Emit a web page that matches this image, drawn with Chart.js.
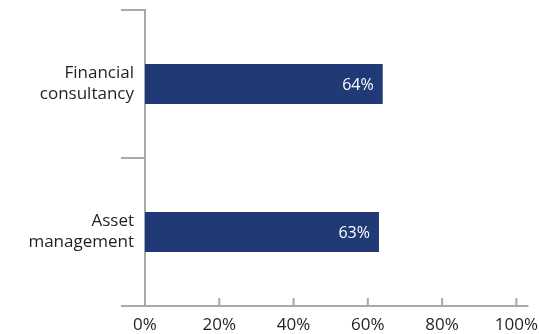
<!DOCTYPE html>
<html>
<head>
<meta charset="utf-8">
<script src="https://cdn.jsdelivr.net/npm/chart.js@4"></script>
<style>
  html, body { margin: 0; padding: 0; background: #fff; }
  #wrap { width: 539px; height: 334px; }
</style>
</head>
<body>
<div id="wrap"><canvas id="chart" width="539" height="334"></canvas></div>
<script>
// data
const categories = [["Financial", "consultancy"], ["Asset", "management"]];
const shares = [64, 63];
const tickValues = [0, 20, 40, 60, 80, 100];

const AXIS = "#a7a9ac";
const BAR = "#1f3a76";
const FONT = "'Open Sans', sans-serif";

// x axis drawn by hand: line runs past 100%, tick marks point up
const xAxisLine = {
    id: "xAxisLine",
    afterDraw(chart) {
        const ctx = chart.ctx;
        const area = chart.chartArea;
        const x = chart.scales.x;
        ctx.save();
        ctx.strokeStyle = AXIS;
        ctx.lineWidth = 2;
        ctx.beginPath();
        ctx.moveTo(area.left, area.bottom);
        ctx.lineTo(area.right + 12, area.bottom);
        tickValues.forEach(v => {
            const px = x.getPixelForValue(v);
            ctx.moveTo(px, area.bottom);
            ctx.lineTo(px, area.bottom - 8);
        });
        ctx.stroke();
        ctx.restore();
    }
};

// value labels inside the bar ends
const barLabels = {
    id: "barLabels",
    afterDatasetsDraw(chart) {
        const ctx = chart.ctx;
        const meta = chart.getDatasetMeta(0);
        ctx.save();
        ctx.fillStyle = "#ffffff";
        ctx.font = "16px " + FONT;
        ctx.textAlign = "right";
        ctx.textBaseline = "middle";
        meta.data.forEach((bar, i) => {
            ctx.fillText(shares[i] + "%", bar.x - 9, bar.y + 1);
        });
        ctx.restore();
    }
};

new Chart(document.getElementById("chart"), {
    type: "bar",
    data: {
        labels: categories,
        datasets: [{
            data: shares,
            backgroundColor: BAR,
            borderWidth: 0,
            categoryPercentage: 0.27,
            barPercentage: 1
        }]
    },
    options: {
        indexAxis: "y",
        responsive: false,
        animation: false,
        layout: { padding: { top: 10, right: 22, bottom: 0, left: 0 } },
        plugins: {
            legend: { display: false },
            tooltip: { enabled: false }
        },
        scales: {
            x: {
                min: 0,
                max: 100,
                afterFit(scale) { scale.height = 28; },
                afterBuildTicks(scale) {
                    scale.ticks = tickValues.map(v => ({ value: v }));
                },
                grid: { display: false },
                border: { display: false },
                ticks: {
                    padding: 1,
                    color: "#231f20",
                    font: { family: FONT, size: 17 },
                    callback: v => v + "%"
                }
            },
            y: {
                afterFit(scale) { scale.width = 145; },
                grid: {
                    offset: true,
                    drawOnChartArea: false,
                    drawTicks: true,
                    tickLength: 24,
                    color: AXIS,
                    lineWidth: 2
                },
                border: { display: true, color: AXIS, width: 2 },
                ticks: {
                    padding: -13,
                    color: "#231f20",
                    font: { family: FONT, size: 17, lineHeight: 1.25 }
                }
            }
        }
    },
    plugins: [xAxisLine, barLabels]
});
</script>
</body>
</html>
